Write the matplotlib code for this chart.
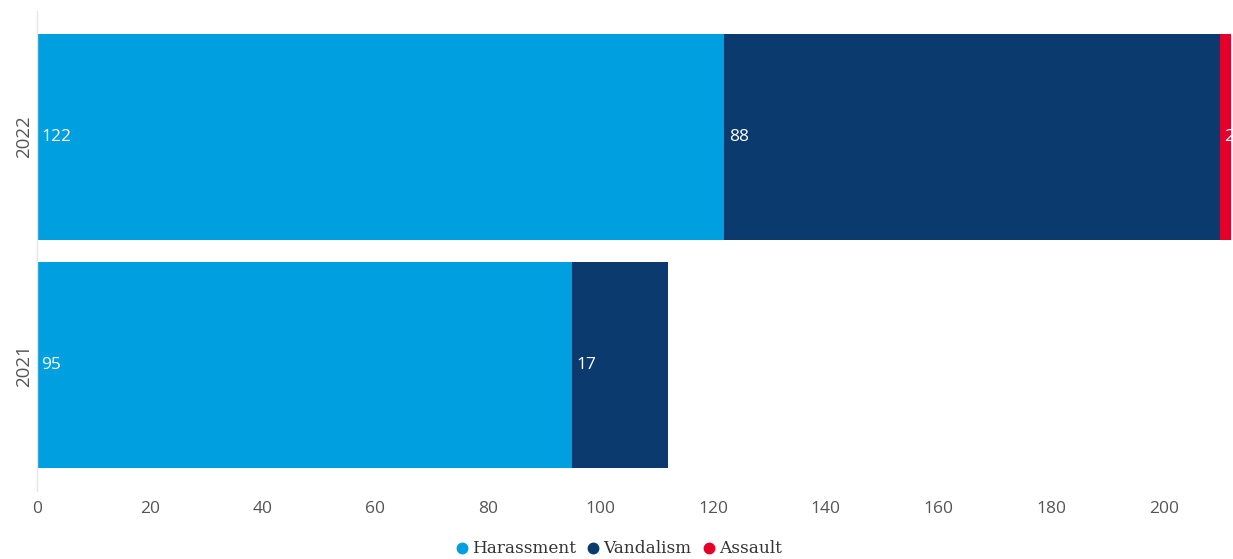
import matplotlib
matplotlib.use("Agg")
import matplotlib.pyplot as plt
import numpy as np

years = ["2021", "2022"]
categories = ["Harassment", "Vandalism", "Assault"]
harassment = [95, 122]
vandalism = [17, 88]
assault = [0, 2]
colors = ["#009fdf", "#0a3a6e", "#e4002b"]
xticks = [0, 20, 40, 60, 80, 100, 120, 140, 160, 180, 200]

fig = plt.figure(figsize=(12.33, 5.59), dpi=100)
ax = fig.add_axes([0.030, 0.1216, 0.970, 0.8587])

y = np.arange(len(years))
left = np.zeros(len(years))
series = [harassment, vandalism, assault]
for name, vals, c in zip(categories, series, colors):
    vals = np.array(vals, dtype=float)
    ax.barh(y, vals, left=left, height=0.9, color=c, label=name, clip_on=True)
    for yi, v, l in zip(y, vals, left):
        if v > 0:
            ax.text(l + 0.8, yi, f"{int(v)}", color="white", va="center", ha="left",
                    fontsize=12.5, family="Open Sans", clip_on=True)
    left = left + vals

ax.set_xlim(0, 212.3)
ax.set_ylim(-0.55, 1.55)
ax.set_yticks(y)
ax.set_yticklabels(years, rotation=90, va="center", fontsize=13.5, color="#555555", family="Open Sans")
ax.set_xticks(xticks)
ax.set_xticklabels([str(t) for t in xticks], fontsize=12.5, color="#555555", family="Open Sans")
ax.tick_params(axis="both", length=0)
ax.tick_params(axis="x", pad=7)
ax.tick_params(axis="y", pad=3)
for s in ["top", "right", "bottom"]:
    ax.spines[s].set_visible(False)
ax.spines["left"].set_color("#e6e6e6")
ax.spines["left"].set_linewidth(1)

handles = [plt.Line2D([0], [0], marker="o", linestyle="", markersize=7.5, markerfacecolor=c,
                      markeredgecolor=c) for c in colors]
fig.legend(handles, categories, loc="center", bbox_to_anchor=(0.499, 0.018), ncol=3, frameon=False,
           handletextpad=-0.2, columnspacing=0.2, handlelength=1.6,
           prop={"family": "DejaVu Serif", "size": 12.2}, labelcolor="#333333")

fig.savefig("out.png", dpi=100)
